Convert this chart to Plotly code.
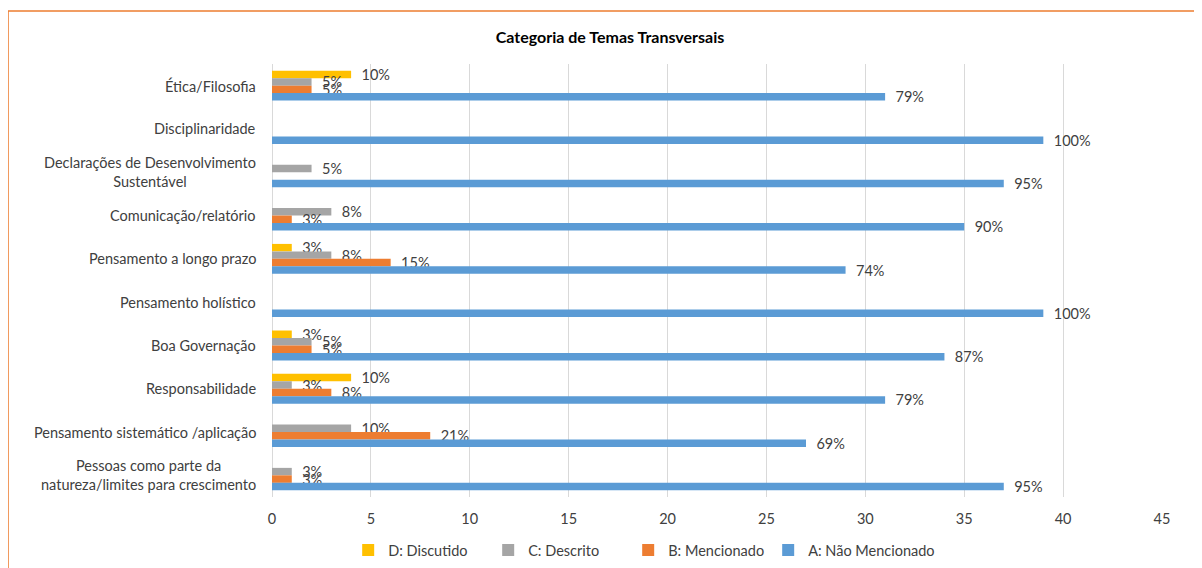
import plotly.graph_objects as go

categories = [
    "Ética/Filosofia",
    "Disciplinaridade",
    "Declarações de Desenvolvimento<br>Sustentável",
    "Comunicação/relatório",
    "Pensamento a longo prazo",
    "Pensamento holístico",
    "Boa Governação",
    "Responsabilidade",
    "Pensamento sistemático /aplicação",
    "Pessoas como parte da<br>natureza/limites para crescimento",
]
total = 39
d_discutido = [4, 0, 0, 0, 1, 0, 1, 4, 0, 0]
c_descrito = [2, 0, 2, 3, 3, 0, 2, 1, 4, 1]
b_mencionado = [2, 0, 0, 1, 6, 0, 2, 3, 8, 1]
a_nao_mencionado = [31, 39, 37, 35, 29, 39, 34, 31, 27, 37]
x_ticks = [0, 5, 10, 15, 20, 25, 30, 35, 40, 45]

series = [
    ("D: Discutido", d_discutido, "#FFC000", 95),
    ("C: Descrito", c_descrito, "#A5A5A5", 95),
    ("B: Mencionado", b_mencionado, "#ED7D31", 95),
    ("A: Não Mencionado", a_nao_mencionado, "#5B9BD5", 140),
]

FONT = "Lato, 'Open Sans', sans-serif"
TXT = "#404040"
FS = 14.5

fig = go.Figure()
for name, vals, color, lw in series:
    labels = ["\u00a0\u00a0%d%%" % round(v / total * 100) if v > 0 else "" for v in vals]
    fig.add_trace(go.Bar(
        name=name, y=categories, x=vals, orientation="h",
        marker=dict(color=color, line=dict(width=0)),
        text=labels, textposition="outside", constraintext="none",
        textfont=dict(family=FONT, size=FS, color=TXT),
        cliponaxis=False, legendwidth=lw,
    ))

for cat in categories:
    fig.add_annotation(
        x=0, y=cat, xref="x", yref="y", text=cat, showarrow=False,
        xanchor="right", yanchor="middle", align="center", xshift=-14,
        font=dict(family=FONT, size=FS, color=TXT),
    )

fig.add_shape(
    type="rect", xref="paper", yref="paper",
    x0=-0.2966, x1=1.08, y0=-0.25, y1=1.1224,
    line=dict(color="#ED7D31", width=1.5), fillcolor="rgba(0,0,0,0)", layer="below",
)

fig.update_layout(
    width=1194, height=560,
    margin=dict(l=264, r=40, t=56, b=71, autoexpand=False),
    paper_bgcolor="white", plot_bgcolor="white",
    barmode="group", bargap=0.31, bargroupgap=0,
    title=dict(text="<b>Categoria de Temas Transversais</b>", x=602 / 1194, xref="container",
               xanchor="center", y=1 - 29 / 560, yanchor="middle",
               font=dict(family=FONT, size=16, color="#000000")),
    xaxis=dict(range=[0, 45], tickvals=x_ticks, showgrid=True, gridcolor="#D9D9D9",
               gridwidth=1, zeroline=True, zerolinecolor="#D9D9D9", zerolinewidth=1,
               showline=False, ticks="", ticklabelstandoff=11, automargin=False,
               tickfont=dict(family=FONT, size=FS, color=TXT)),
    yaxis=dict(autorange="reversed", showticklabels=False, showgrid=False,
               showline=False, ticks="", automargin=False),
    legend=dict(orientation="h", x=0.0856, xanchor="left", yref="container",
                y=1 - 542 / 560, yanchor="middle",
                font=dict(family=FONT, size=FS, color=TXT), traceorder="normal",
                itemwidth=30, entrywidthmode="pixels"),
    showlegend=True,
)

fig.write_html("out.html")
